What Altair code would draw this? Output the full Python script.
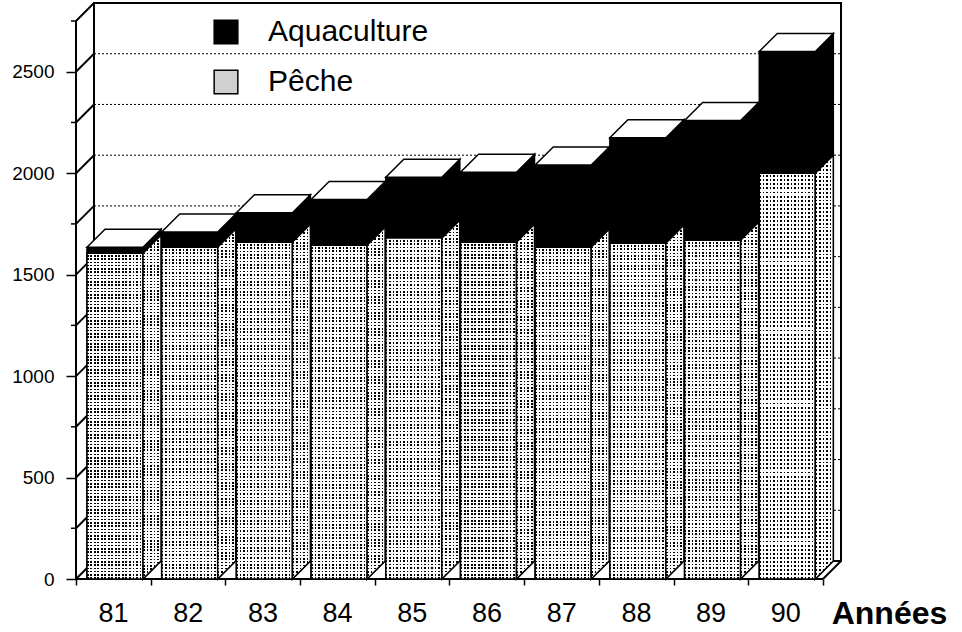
import json
import altair as alt
import pandas as pd

# Production par année (milliers de tonnes)
years = ["81", "82", "83", "84", "85", "86", "87", "88", "89", "90"]
peche = [1605, 1635, 1660, 1645, 1680, 1660, 1635, 1655, 1670, 2000]
aquaculture = [30, 75, 145, 225, 300, 345, 405, 520, 590, 600]

series_names = ["Aquaculture", "Pêche"]
series_colors = ["#000000", "#d0d0d0"]

y_major = [0, 500, 1000, 1500, 2000, 2500]
y_minor = [250, 750, 1250, 1750, 2250, 2750]
Y_TOP = 2750

# oblique projection: depth expressed in x-band units and in y-value units
DX = 0.241
DY = 88.7
BAR_LEFT = 0.147
BAR_W = 0.75
N = len(years)

W, H = 765, 576
FONT = "Liberation Sans"

xs = alt.Scale(domain=[0, N + DX], nice=False, zero=False)
ys = alt.Scale(domain=[0, Y_TOP + DY], nice=False, zero=False)


def stripes(n, duty, ink, gap, vertical):
    """Hard-edged striped linear gradient across a mark's bounding box."""
    stops = []
    for j in range(n):
        a = j / n
        b = (j + duty) / n
        c = (j + 1) / n
        stops += [
            {"offset": a, "color": ink},
            {"offset": b, "color": ink},
            {"offset": b, "color": gap},
            {"offset": c, "color": gap},
        ]
    g = {"gradient": "linear", "x1": 0, "y1": 0, "x2": 1, "y2": 0, "stops": stops}
    if vertical:
        g.update({"x2": 0, "y2": 1})
    return g


CLEAR = "rgba(255,255,255,0)"
# stippled "Pêche" texture = dark columns masked by opaque white rows
front_cols = stripes(16, 0.45, "#000000", "#ffffff", vertical=False)
front_rows_mask = stripes(100, 0.52, "#ffffff", CLEAR, vertical=True)
side_cols = stripes(5, 0.45, "#000000", "#ffffff", vertical=False)
side_rows_mask = stripes(110, 0.52, "#ffffff", CLEAR, vertical=True)

# ---- bar geometry -------------------------------------------------------
front_rows, side_rows, top_rows = [], [], []
for i, (p, a) in enumerate(zip(peche, aquaculture)):
    x0 = i + BAR_LEFT
    x1 = x0 + BAR_W
    for name, lo, hi in (("Pêche", 0, p), ("Aquaculture", p, p + a)):
        front_rows.append(dict(bar=i, serie=name, x0=x0, x1=x1, y0=lo, y1=hi))
        key = f"{i}-{name}"
        side_rows.append(dict(key=key, serie=name, x=x1, lo=lo, hi=hi))
        side_rows.append(dict(key=key, serie=name, x=x1 + DX, lo=lo + DY, hi=hi + DY))
    tot = p + a
    top_rows.append(dict(bar=i, y=tot, xa=x0, xb=x1))
    top_rows.append(dict(bar=i, y=tot + DY, xa=x0 + DX, xb=x1 + DX))

front = pd.DataFrame(front_rows)
side = pd.DataFrame(side_rows)
top = pd.DataFrame(top_rows)

grid_levels = sorted(y_major + y_minor)

# straight segments of the box: back wall grid, side wall diagonals, floor edges
seg_rows = []
for v in grid_levels:
    if 0 < v < Y_TOP:
        seg_rows.append(dict(kind="grid", xa=DX, xb=N + DX, ya=v + DY, yb=v + DY))
    seg_rows.append(dict(kind="edge", xa=0, xb=DX, ya=v, yb=v + DY))
seg_rows.append(dict(kind="edge", xa=0, xb=0, ya=0, yb=Y_TOP))
seg_rows.append(dict(kind="edge", xa=0, xb=N, ya=0, yb=0))
seg_rows.append(dict(kind="edge", xa=N, xb=N + DX, ya=0, yb=DY))
segs = pd.DataFrame(seg_rows)

wall = pd.DataFrame({"a": [DX], "b": [N + DX], "c": [DY], "d": [Y_TOP + DY]})
minor = pd.DataFrame({"v": y_minor})

label_list = json.dumps(years + [""])

# ---- back wall (carries both axes) ---------------------------------------
back_wall = alt.Chart(wall).mark_rect(fill="white", stroke="black", strokeWidth=2).encode(
    x=alt.X(
        "a:Q",
        scale=xs,
        axis=alt.Axis(
            values=list(range(N + 1)),
            labelExpr=f"{label_list}[datum.value]",
            labelOffset=37,
            labelFontSize=27,
            labelFont=FONT,
            labelColor="black",
            labelPadding=15,
            labelOverlap=False,
            labelFlush=False,
            labelBound=False,
            tickSize=6,
            tickWidth=1.5,
            tickColor="black",
            domain=False,
            grid=False,
            title="Années",
            titleFont=FONT,
            titleFontSize=32,
            titleFontWeight="bold",
            titleColor="black",
            titleX=813,
            titleY=44,
            titleAlign="center",
            titleBaseline="alphabetic",
        ),
    ),
    x2="b:Q",
    y=alt.Y(
        "c:Q",
        scale=ys,
        axis=alt.Axis(
            values=y_major,
            format="d",
            labelFontSize=19,
            labelFont=FONT,
            labelColor="black",
            labelPadding=12,
            labelBound=False,
            tickSize=10,
            tickWidth=1.5,
            tickColor="black",
            domain=False,
            grid=False,
            title=None,
        ),
    ),
    y2="d:Q",
)

grid = alt.Chart(segs).transform_filter("datum.kind == 'grid'").mark_rule(
    color="black", strokeWidth=1, strokeDash=[2, 2]
).encode(
    x=alt.X("xa:Q", scale=xs),
    x2="xb:Q",
    y=alt.Y("ya:Q", scale=ys),
    y2="yb:Q",
)

edges = alt.Chart(segs).transform_filter("datum.kind == 'edge'").mark_rule(
    color="black", strokeWidth=2
).encode(
    x=alt.X("xa:Q", scale=xs),
    x2="xb:Q",
    y=alt.Y("ya:Q", scale=ys),
    y2="yb:Q",
)

minor_ticks = alt.Chart(minor).mark_rule(color="black", strokeWidth=1.5).encode(
    x=alt.value(-5),
    x2=alt.value(0),
    y=alt.Y("v:Q", scale=ys),
)

# ---- bars ------------------------------------------------------------------
front_faces = alt.Chart(front).mark_rect(stroke="black", strokeWidth=1.5).encode(
    x=alt.X("x0:Q", scale=xs),
    x2="x1:Q",
    y=alt.Y("y0:Q", scale=ys),
    y2="y1:Q",
    color=alt.Color(
        "serie:N",
        scale=alt.Scale(domain=series_names, range=series_colors),
        legend=alt.Legend(
            orient="none",
            legendX=135,
            legendY=14,
            title=None,
            symbolType="square",
            symbolSize=560,
            symbolStrokeColor="black",
            symbolStrokeWidth=1.5,
            symbolOpacity=1,
            labelFont=FONT,
            labelFontSize=30,
            labelColor="black",
            labelOffset=27,
            labelLimit=500,
            rowPadding=20,
        ),
    ),
)

side_faces = alt.Chart(side).mark_area(orient="vertical", stroke="black", strokeWidth=1.5, opacity=1).encode(
    x=alt.X("x:Q", scale=xs),
    y=alt.Y("lo:Q", scale=ys),
    y2="hi:Q",
    detail="key:N",
    color=alt.Color("serie:N"),
)

peche_front = alt.Chart(front).transform_filter("datum.serie == 'Pêche'")
peche_side = alt.Chart(side).transform_filter("datum.serie == 'Pêche'")

front_tex = [
    peche_front.mark_rect(fill=g, strokeWidth=0).encode(
        x=alt.X("x0:Q", scale=xs), x2="x1:Q", y=alt.Y("y0:Q", scale=ys), y2="y1:Q"
    )
    for g in (front_cols, front_rows_mask)
]
front_outline = peche_front.mark_rect(fill=None, stroke="black", strokeWidth=1.5).encode(
    x=alt.X("x0:Q", scale=xs), x2="x1:Q", y=alt.Y("y0:Q", scale=ys), y2="y1:Q"
)
side_tex = [
    peche_side.mark_area(orient="vertical", fill=g, opacity=1).encode(
        x=alt.X("x:Q", scale=xs), y=alt.Y("lo:Q", scale=ys), y2="hi:Q", detail="key:N"
    )
    for g in (side_cols, side_rows_mask)
]
side_outline = peche_side.mark_area(orient="vertical", fill=None, stroke="black", strokeWidth=1.5).encode(
    x=alt.X("x:Q", scale=xs), y=alt.Y("lo:Q", scale=ys), y2="hi:Q", detail="key:N"
)

top_faces = alt.Chart(top).mark_area(orient="horizontal", fill="white", stroke="black", strokeWidth=1.5, opacity=1).encode(
    y=alt.Y("y:Q", scale=ys),
    x=alt.X("xa:Q", scale=xs),
    x2="xb:Q",
    detail="bar:N",
)

chart = alt.layer(
    back_wall, grid, edges, minor_ticks, front_faces, side_faces,
    *front_tex, front_outline, *side_tex, side_outline, top_faces,
).properties(
    width=W,
    height=H,
    padding={"left": 76, "top": 3, "right": 962 - 76 - W, "bottom": 632 - 3 - H},
    autosize=alt.AutoSizeParams(type="none"),
    background="white",
).configure_view(stroke=None)

chart.save("out.html", embed_options={"renderer": "svg", "actions": False})
